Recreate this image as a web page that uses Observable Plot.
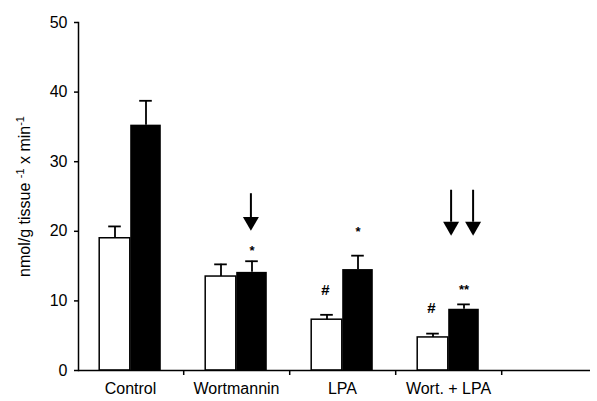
<!DOCTYPE html>
<html><head><meta charset="utf-8">
<script src="https://cdn.jsdelivr.net/npm/d3@7"></script>
<script src="https://cdn.jsdelivr.net/npm/@observablehq/plot@0.6"></script>
<style>body{margin:0;background:#fff} svg{display:block}</style>
</head><body><div id="chart"></div>
<script>
// ---- data ----
const categories = ["Control", "Wortmannin", "LPA", "Wort. + LPA", ""];
const groups = ["Control", "Wortmannin", "LPA", "Wort. + LPA"];
const whiteMean = [19.0, 13.5, 7.3, 4.75];
const whiteErr  = [1.7, 1.75, 0.7, 0.55];
const blackMean = [35.25, 14.1, 14.5, 8.8];
const blackErr  = [3.5, 1.6, 2.0, 0.7];
const yTicks = [0, 10, 20, 30, 40, 50];
const yLabel = "nmol/g tissue -1 x min-1";
// significance marks: group, series, symbol, y position (data units)
const markGroup = ["Wortmannin", "LPA", "LPA", "Wort. + LPA", "Wort. + LPA"];
const markSeries = ["black", "white", "black", "white", "black"];
const markText = ["*", "#", "*", "#", "**"];
const markY = [17.7, 11.5, 20.55, 8.9, 12.2];
// arrows: group, shaft top, shaft bottom, head centre (data units)
const arrowGroup = ["Wortmannin", "Wort. + LPA", "Wort. + LPA"];
const arrowTop = [25.4, 25.9, 25.9];
const arrowBase = [21.8, 21.3, 21.3];
const arrowHead = [21.4, 20.7, 20.7];
const arrowShift = [14.4, 2.6, 24.6];

// ---- layout ----
const W = 597, H = 401;
const xRange = [76, 608];
const bw = (xRange[1] - xRange[0]) / categories.length;
const half = bw / 2, barW = 31, off = barW / 2, capHalf = 6.5;

const white = groups.map((g, i) => ({group: g, mean: whiteMean[i], top: whiteMean[i] + whiteErr[i]}));
const black = groups.map((g, i) => ({group: g, mean: blackMean[i], top: blackMean[i] + blackErr[i]}));
const sig = markGroup.map((g, i) => ({group: g, series: markSeries[i], text: markText[i], y: markY[i]}));
const arrows = arrowGroup.map((g, i) => ({group: g, top: arrowTop[i], base: arrowBase[i], head: arrowHead[i], dx: arrowShift[i]}));

const font = "'Liberation Sans', Arial, Helvetica, sans-serif";

const sigMarks = sig.map(d => {
  const dx = d.series === "white" ? -off - 1.5 : off;
  return d.text === "#"
    ? Plot.text([d], {x: "group", y: "y", text: "text", dx, fontSize: 15, fontWeight: "bold"})
    : Plot.text([d], {x: "group", y: "y", text: "text", dx, dy: 4, fontSize: 13, fontWeight: "bold"});
});
const arrowMarks = arrows.flatMap(d => [
  Plot.ruleX([d], {x: "group", y1: "top", y2: "base", dx: d.dx, stroke: "black", strokeWidth: 2}),
  Plot.dot([d], {x: "group", y: "head", dx: d.dx, symbol: "triangle", r: 5.94, rotate: 180, fill: "black", stroke: "none"})
]);

const chart = Plot.plot({
  width: W, height: H,
  marginLeft: 78, marginRight: 7, marginTop: 22, marginBottom: 31,
  style: {fontFamily: font, fontSize: "16px", color: "black", background: "white", overflow: "visible"},
  x: {domain: categories, range: xRange, padding: 0, label: null},
  y: {domain: [0, 50], label: null},
  marks: [
    // white bars
    Plot.barY(white, {x: "group", y: "mean", fill: "white", stroke: "black", strokeWidth: 1.5,
      insetLeft: half - barW, insetRight: half}),
    Plot.ruleX(white, {x: "group", y1: "mean", y2: "top", dx: -off, stroke: "black", strokeWidth: 1.8}),
    Plot.tickY(white, {x: "group", y: "top", stroke: "black", strokeWidth: 1.8,
      insetLeft: half - off - capHalf, insetRight: half + off - capHalf}),
    // black bars
    Plot.barY(black, {x: "group", y: "mean", fill: "black",
      insetLeft: half, insetRight: half - barW}),
    Plot.ruleX(black, {x: "group", y1: "mean", y2: "top", dx: off, stroke: "black", strokeWidth: 1.8}),
    Plot.tickY(black, {x: "group", y: "top", stroke: "black", strokeWidth: 1.8,
      insetLeft: half + off - capHalf, insetRight: half - off - capHalf}),
    // axes
    Plot.ruleY([0], {stroke: "black", strokeWidth: 1.5}),
    Plot.frame({anchor: "left", stroke: "black", strokeWidth: 1.5}),
    Plot.ruleX(groups, {x: d => d, y1: 0, y2: 0, dx: half, insetBottom: -5, stroke: "black", strokeWidth: 1.5}),
    Plot.axisY({ticks: yTicks, tickSize: 4, tickPadding: 7, fontSize: 16, strokeWidth: 1.5,
      label: yLabel, labelAnchor: "center", labelArrow: "none", labelOffset: 60}),
    Plot.axisX({tickSize: 0, tickPadding: 12, fontSize: 16, label: null}),
    ...sigMarks,
    ...arrowMarks
  ]
});
document.getElementById("chart").appendChild(chart);

// superscripts in the y-axis label
const lab = chart.querySelector('g[aria-label="y-axis label"] text');
if (lab) {
  lab.textContent = "";
  const ns = "http://www.w3.org/2000/svg";
  const parts = [["nmol/g tissue ", 0, null], ["-1", -6, 11], [" x min", 6, null], ["-1", -6, 11]];
  for (const [t, dy, fs] of parts) {
    const ts = document.createElementNS(ns, "tspan");
    ts.textContent = t;
    if (dy) ts.setAttribute("dy", dy);
    if (fs) ts.setAttribute("font-size", fs);
    lab.appendChild(ts);
  }
}
</script>
</body></html>
